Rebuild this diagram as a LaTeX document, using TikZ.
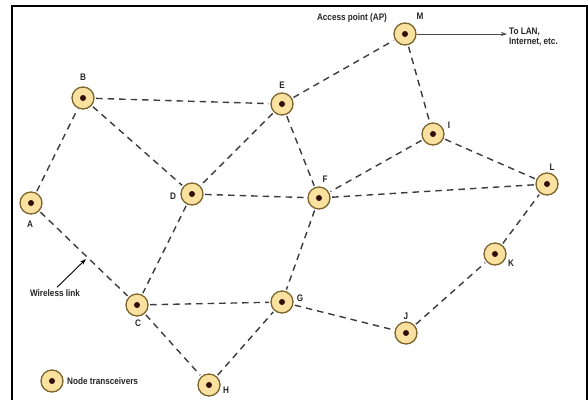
\documentclass[tikz,border=0pt]{standalone}
\usepackage{fontspec}
\setmainfont{Liberation Sans}
\usetikzlibrary{arrows.meta}
\definecolor{ringfill}{RGB}{249,226,160}
\definecolor{ringdraw}{RGB}{125,100,45}
\definecolor{dotcol}{RGB}{50,15,10}
\definecolor{linkcol}{RGB}{60,60,60}
\newcommand{\lbl}[1]{\scalebox{0.86}[1]{#1}}
\tikzset{
  trx/.style={circle, minimum size=22pt, inner sep=0pt, fill=ringfill, draw=ringdraw, line width=1.3pt,
    path picture={\fill[dotcol] (path picture bounding box.center) circle (3pt);}},
  link/.style={draw=linkcol, line width=1.4pt, dash pattern=on 6.5pt off 5pt, shorten <=1.5pt, shorten >=1.5pt},
  txt/.style={font=\fontsize{9.5}{10.5}\selectfont\bfseries, text=black!85, inner sep=0pt}
}
\begin{document}
\begin{tikzpicture}[x=1pt,y=-1pt]
\useasboundingbox (0,0) rectangle (588,400);
\fill[white] (0,0) rectangle (588,400);
\draw[line width=1.3pt] (12,400) -- (12,6) -- (587,6) -- (587,400);
% nodes
\node[trx] (M) at (405,34) {};
\node[trx] (A) at (31,203) {};
\node[trx] (B) at (83,98) {};
\node[trx] (E) at (282,104) {};
\node[trx] (D) at (192,194) {};
\node[trx] (F) at (319,198) {};
\node[trx] (I) at (433,134) {};
\node[trx] (L) at (547,184) {};
\node[trx] (K) at (495,254) {};
\node[trx] (J) at (406,333) {};
\node[trx] (G) at (282,302) {};
\node[trx] (C) at (137,305) {};
\node[trx] (H) at (209,385) {};
\node[trx] (leg) at (52,381) {};
% links
\draw[link] (A) -- (B);
\draw[link] (A) -- (C);
\draw[link] (B) -- (E);
\draw[link] (B) -- (D);
\draw[link] (E) -- (D);
\draw[link] (E) -- (F);
\draw[link] (E) -- (M);
\draw[link] (M) -- (I);
\draw[link] (I) -- (F);
\draw[link] (I) -- (L);
\draw[link] (D) -- (F);
\draw[link] (F) -- (L);
\draw[link] (D) -- (C);
\draw[link] (F) -- (G);
\draw[link] (C) -- (G);
\draw[link] (C) -- (H);
\draw[link] (H) -- (G);
\draw[link] (G) -- (J);
\draw[link] (J) -- (K);
\draw[link] (K) -- (L);
% labels
\node[txt] (tM) at (420,16) {\lbl{M}};
\node[txt] (tAP) at (352,18) {\lbl{Access point (AP)}};
\node[txt, anchor=west, align=left] (tLAN) at (509,37) {\lbl{To LAN,}\\[-1pt]\lbl{Internet, etc.}};
\coordinate (lanend) at (507,34);
\draw[-{Stealth[length=6pt,width=4pt]}, line width=0.9pt, draw=black!70] (M) -- (lanend);
\node[txt] (tA) at (30,224) {\lbl{A}};
\node[txt] (tB) at (83,77) {\lbl{B}};
\node[txt] (tE) at (282,85) {\lbl{E}};
\node[txt] (tD) at (173,196) {\lbl{D}};
\node[txt] (tF) at (325,179) {\lbl{F}};
\node[txt] (tI) at (449,125) {\lbl{I}};
\node[txt] (tL) at (552,167) {\lbl{L}};
\node[txt] (tK) at (511,263) {\lbl{K}};
\node[txt] (tJ) at (406,316) {\lbl{J}};
\node[txt] (tG) at (300,298) {\lbl{G}};
\node[txt] (tC) at (138,323) {\lbl{C}};
\node[txt] (tH) at (226,390) {\lbl{H}};
\node[txt] (tW) at (55,293) {\lbl{Wireless link}};
\coordinate (wtip) at (86,259);
\draw[-{Stealth[length=6pt,width=4pt]}, line width=0.9pt] (tW.north) ++(2,-2) -- (wtip);
\node[txt, anchor=west] (tN) at (67,381) {\lbl{Node transceivers}};
\end{tikzpicture}
\end{document}
